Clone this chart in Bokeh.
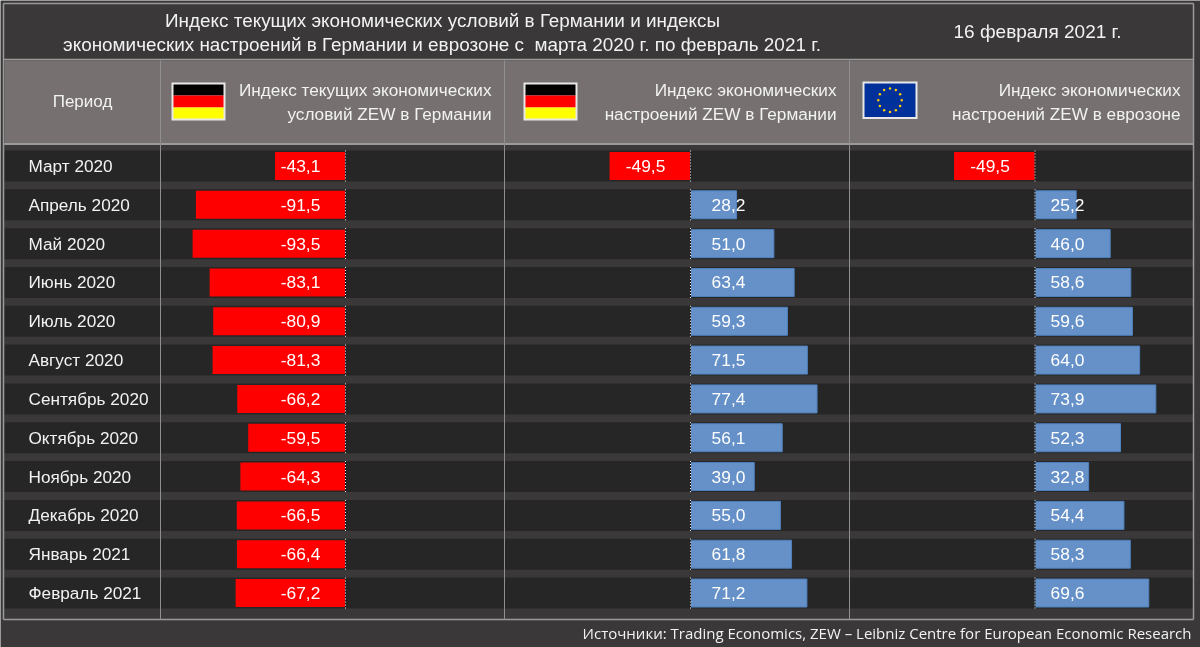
import math
from bokeh.plotting import figure
from bokeh.models import Range1d
from bokeh.core.properties import value
from bokeh.embed import file_html
from bokeh.resources import INLINE

months = ["Март 2020", "Апрель 2020", "Май 2020", "Июнь 2020", "Июль 2020", "Август 2020",
          "Сентябрь 2020", "Октябрь 2020", "Ноябрь 2020", "Декабрь 2020", "Январь 2021", "Февраль 2021"]
current_de = [-43.1, -91.5, -93.5, -83.1, -80.9, -81.3, -66.2, -59.5, -64.3, -66.5, -66.4, -67.2]
sentiment_de = [-49.5, 28.2, 51.0, 63.4, 59.3, 71.5, 77.4, 56.1, 39.0, 55.0, 61.8, 71.2]
sentiment_ez = [-49.5, 25.2, 46.0, 58.6, 59.6, 64.0, 73.9, 52.3, 32.8, 54.4, 58.3, 69.6]
title_lines = ["Индекс текущих экономических условий в Германии и индексы",
               "экономических настроений в Германии и еврозоне с \u00a0марта 2020 г. по февраль 2021 г."]
date_text = "16 февраля 2021 г."
source_text = "Источники: Trading Economics, ZEW – Leibniz Centre for European Economic Research"
period_head = "Период"
col_heads = [["Индекс текущих экономических", "условий ZEW в Германии"],
             ["Индекс экономических", "настроений ZEW в Германии"],
             ["Индекс экономических", "настроений ZEW в еврозоне"]]

W, H = 1200, 647
BG, HEAD, ROW, LINE = "#3a3838", "#767170", "#262626", "#9a9a9a"
TXT = "#f2f2f2"
FONT = value("Liberation Sans")
PX = 1.635
ROW_H = 38.82
ROW0 = 165.5

p = figure(width=W, height=H, output_backend="svg", toolbar_location=None,
           x_range=Range1d(0, W), y_range=Range1d(H, 0), x_axis_type=None, y_axis_type=None,
           min_border=0, outline_line_color=None, background_fill_color=BG, border_fill_color=BG)
p.grid.visible = False
p.styles = {"position": "fixed", "left": "0px", "top": "0px"}

zeros = [345.0, 690.0, 1034.5]
names = ["c1", "c2", "c3"]
pos_offsets = [37.5, 37.5, 32.0]
for n, z in zip(names, zeros):
    p.extra_x_ranges[n] = Range1d(-z / PX, (W - z) / PX)
p.extra_y_ranges["rows"] = Range1d((H - ROW0) / ROW_H, -ROW0 / ROW_H)

rows = list(range(len(months)))

# header band and rows
p.quad(left=4, right=1193, top=60, bottom=143, fill_color=HEAD, line_color=None)
p.hbar(y=rows, height=31 / ROW_H, left=4, right=1193, y_range_name="rows", fill_color=ROW, line_color=None)

# frame and separators
p.segment(x0=[3, 3, 3, 3, 1193, 3], y0=[3, 59, 143.5, 619, 3, 3],
          x1=[1193, 1193, 1193, 1193, 1193, 3], y1=[3, 59, 143.5, 619, 619, 619],
          line_color=LINE, line_width=[1.5, 1.5, 2, 1.5, 1.5, 1.5])
p.segment(x0=[160, 504, 849], y0=[60] * 3, x1=[160, 504, 849], y1=[619] * 3,
          line_color="#8f8f8f", line_width=1)

# bars
for n, z, off, vals in zip(names, zeros, pos_offsets, [current_de, sentiment_de, sentiment_ez]):
    neg_r = [i for i, v in zip(rows, vals) if v < 0]
    neg_v = [v for v in vals if v < 0]
    pos_r = [i for i, v in zip(rows, vals) if v >= 0]
    pos_v = [v for v in vals if v >= 0]
    if neg_v:
        p.hbar(y=neg_r, height=28 / ROW_H, left=0, right=neg_v, x_range_name=n, y_range_name="rows",
               fill_color="#ff0000", line_color=None)
    if pos_v:
        p.hbar(y=pos_r, height=28 / ROW_H, left=0, right=pos_v, x_range_name=n, y_range_name="rows",
               fill_color="#6590c8", line_color="#4f81bd", line_width=1)
    p.segment(x0=[0] * len(rows), x1=[0] * len(rows), y0=[r - 15.5 / ROW_H for r in rows],
              y1=[r + 15.5 / ROW_H for r in rows], x_range_name=n, y_range_name="rows",
              line_color="#111111", line_width=1)
    p.segment(x0=[0] * len(rows), x1=[0] * len(rows), y0=[r - 15.5 / ROW_H for r in rows],
              y1=[r + 15.5 / ROW_H for r in rows], x_range_name=n, y_range_name="rows",
              line_color="#ffffff", line_width=1, line_dash="1 2")
    lx = [z - 45 if v < 0 else z + off + 0.5 for v in vals]
    p.text(x=lx, y=rows, text=[f"{v:.1f}".replace(".", ",") for v in vals], y_range_name="rows",
           text_color="#ffffff", text_font=FONT, text_font_size="17.4px", text_align="center",
           text_baseline="middle")

# row labels
p.text(x=[28] * len(rows), y=rows, text=months, y_range_name="rows", text_color=TXT, text_font=FONT,
       text_font_size="17.2px", text_align="left", text_baseline="middle")

# title, date, header
p.text(x=[442, 441.5], y=[20, 44], text=title_lines, text_color=TXT, text_font=FONT, text_font_size="18.9px",
       text_align="center", text_baseline="middle")
p.text(x=[1037], y=[31], text=[date_text], text_color=TXT, text_font=FONT, text_font_size="19px",
       text_align="center", text_baseline="middle")
p.text(x=[82], y=[101], text=[period_head], text_color=TXT, text_font=FONT, text_font_size="17px",
       text_align="center", text_baseline="middle")
for right, lines in zip([491, 836, 1180], col_heads):
    p.text(x=[right, right], y=[89.5, 113], text=lines, text_color=TXT, text_font=FONT, text_font_size="17.2px",
           text_align="right", text_baseline="middle")

# source
p.text(x=[1191], y=[632], text=[source_text], text_color=TXT, text_font=value("Open Sans"), text_font_size="15px",
       text_align="right", text_baseline="middle")

# flags
for l in [171, 523]:
    p.quad(left=l, right=l + 54, top=82, bottom=120, fill_color="#e8e8e8", line_color=None)
    p.quad(left=l + 2, right=l + 52, top=84, bottom=95, fill_color="#000000", line_color=None)
    p.quad(left=l + 2, right=l + 52, top=95, bottom=107, fill_color="#ff0000", line_color=None)
    p.quad(left=l + 2, right=l + 52, top=107, bottom=118, fill_color="#ffff00", line_color=None)
p.quad(left=862, right=917, top=81, bottom=118.5, fill_color="#e8e8e8", line_color=None)
p.quad(left=864, right=915, top=83, bottom=116.5, fill_color="#00309a", line_color=None)
ang = [k * math.pi / 6 for k in range(12)]
p.scatter(x=[889.5 + 11.7 * math.sin(a) for a in ang], y=[99.7 - 11.7 * math.cos(a) for a in ang],
          size=2.5, marker="circle", fill_color="#ffcc00", line_color=None)

open("out.html", "w").write(file_html(p, INLINE))
